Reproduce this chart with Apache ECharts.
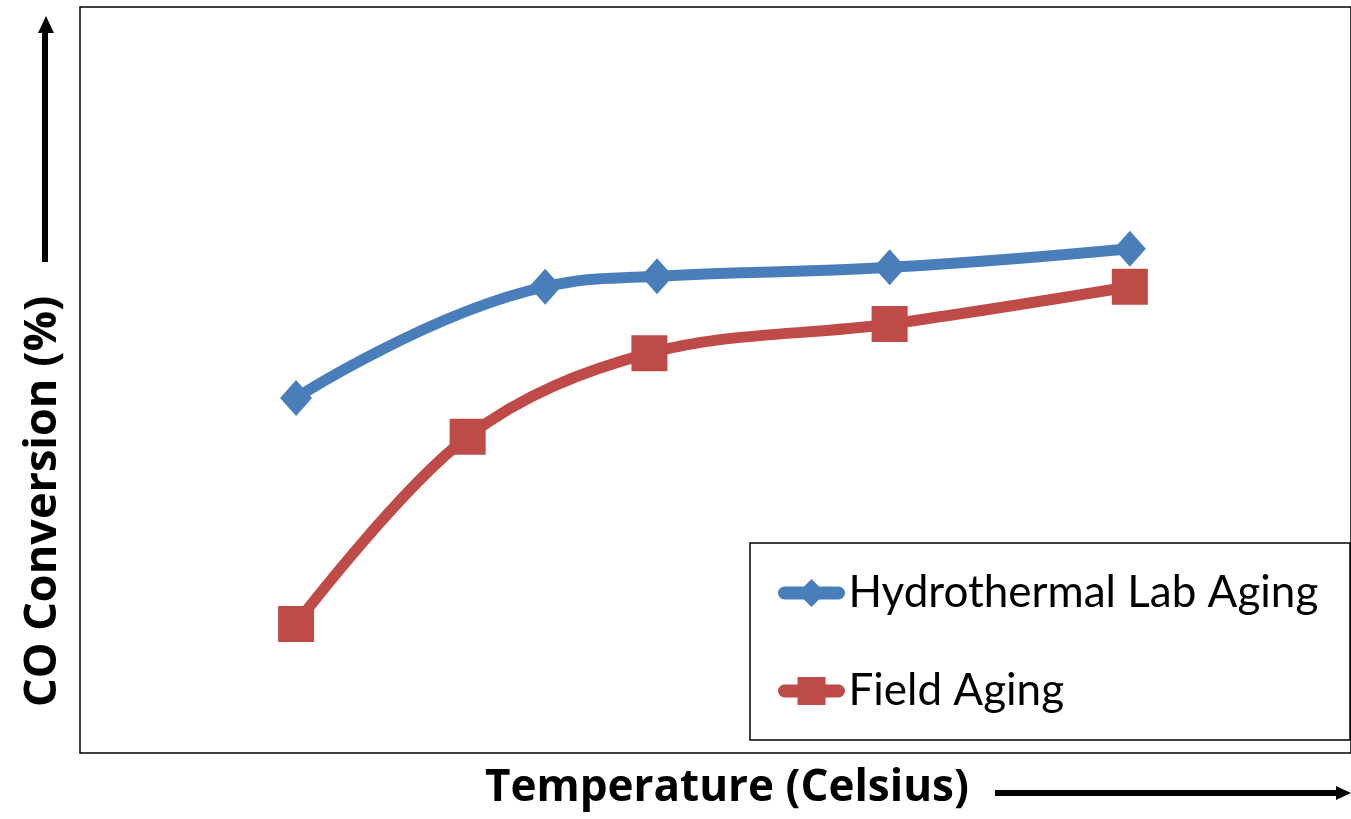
<!DOCTYPE html>
<html>
<head>
<meta charset="utf-8">
<script src="https://cdn.jsdelivr.net/npm/echarts@6/dist/echarts.min.js"></script>
<style>
html,body{margin:0;padding:0;background:#fff;overflow:hidden;}
#chart{width:1351px;height:819px;}
</style>
</head>
<body>
<div id="chart"></div>
<script>
// Temperature (relative position along axis; the original has no tick labels)
var hydroTemp = [17.0, 36.6, 45.4, 63.7, 82.6];
var hydroConv = [47.6, 62.5, 63.9, 65.1, 67.6];
var fieldTemp = [17.0, 30.5, 44.8, 63.7, 82.6];
var fieldConv = [17.3, 42.4, 53.6, 57.5, 62.5];
var seriesNames = ['Hydrothermal Lab Aging', 'Field Aging'];
var xTitle = 'Temperature (Celsius)';
var yTitle = 'CO Conversion (%)';

function pairs(xs, ys){ return xs.map(function(x,i){ return [x, ys[i]]; }); }

var chart = echarts.init(document.getElementById('chart'), null, {renderer:'canvas'});
var option = {
  animation:false,
  backgroundColor:'#ffffff',
  grid:{left:80, top:7, right:-10, bottom:66, show:true, borderColor:'#000', borderWidth:1.5, backgroundColor:'transparent'},
  xAxis:{type:'value', min:0, max:100, axisLine:{show:false}, axisTick:{show:false}, axisLabel:{show:false}, splitLine:{show:false}},
  yAxis:{type:'value', min:0, max:100, axisLine:{show:false}, axisTick:{show:false}, axisLabel:{show:false}, splitLine:{show:false}},
  legend:{
    left:778, top:571,
    orient:'vertical',
    data:seriesNames,
    padding:0,
    itemWidth:54, itemHeight:35, itemGap:54,
    lineStyle:{width:13, cap:'round'},
    textStyle:{fontFamily:'Lato', fontSize:44, lineHeight:35, color:'#000', padding:[0,0,0,5]}
  },
  series:[
    {name:seriesNames[0], type:'line', data:pairs(hydroTemp, hydroConv), smooth:0.45,
     symbol:'diamond', symbolSize:[32,36], color:'#4A7EBB',
     lineStyle:{width:11, color:'#4A7EBB'}, itemStyle:{color:'#4A7EBB'}},
    {name:seriesNames[1], type:'line', data:pairs(fieldTemp, fieldConv), smooth:0.35,
     symbol:'rect', symbolSize:36, color:'#BE4B48',
     lineStyle:{width:11, color:'#BE4B48'}, itemStyle:{color:'#BE4B48'}}
  ],
  graphic:[
    {type:'rect', z:-1, shape:{x:750, y:543, width:600, height:197}, style:{fill:'#fff', stroke:'#000', lineWidth:1.5}},
    {type:'text', left:485, top:766, style:{text:xTitle, font:'bold 44px "Open Sans"', fill:'#000'}},
    {type:'text', x:21, y:707, rotation:Math.PI/2, style:{text:yTitle, font:'bold 45px "Open Sans"', fill:'#000', textVerticalAlign:'top'}},
    {type:'line', shape:{x1:45, y1:262, x2:45, y2:30}, style:{stroke:'#000', lineWidth:6}},
    {type:'polygon', shape:{points:[[46,16],[38,33],[54,33]]}, style:{fill:'#000'}},
    {type:'line', shape:{x1:995, y1:793, x2:1340, y2:793}, style:{stroke:'#000', lineWidth:6}},
    {type:'polygon', shape:{points:[[1351,793],[1336,786],[1336,800]]}, style:{fill:'#000'}}
  ]
};
chart.setOption(option);
</script>
</body>
</html>
